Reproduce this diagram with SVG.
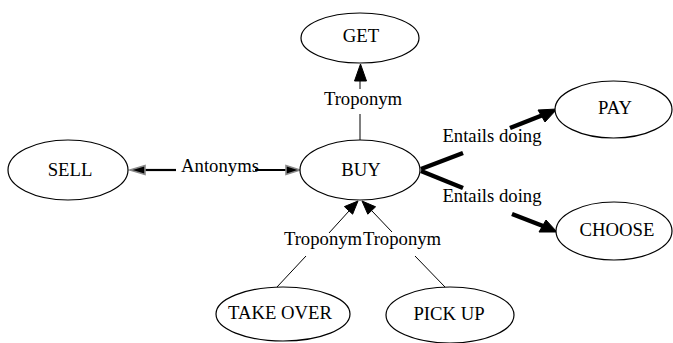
<svg xmlns="http://www.w3.org/2000/svg" width="673" height="343" viewBox="0 0 673 343">
<style>
  .node ellipse { fill: #ffffff; stroke: #000000; stroke-width: 1.2; }
  text { font-family: "Liberation Serif", "Times New Roman", serif; font-size: 18.7px; fill: #000000; text-anchor: middle; }
  .thin { stroke: #000000; stroke-width: 1; fill: none; }
  .thick { stroke: #000000; stroke-width: 4.5; fill: none; }
  .mid { stroke: #000000; stroke-width: 2.2; fill: none; }
  .head { fill: #000000; stroke: #000000; stroke-width: 1; }
  .ghead { fill: #000000; stroke: #8a8a8a; stroke-width: 1.6; stroke-linejoin: miter; }
</style>
<rect width="673" height="343" fill="#ffffff"/>
<g id="connectors">
  <g id="e-sell-buy">
    <line class="mid" x1="145" y1="170" x2="176" y2="170"/>
    <line class="mid" x1="255" y1="170" x2="288" y2="170"/>
    <polygon class="ghead" points="130,170 145,165.5 145,174.5"/>
    <polygon class="ghead" points="300,170 286,165.5 286,174.5"/>
    <text x="220" y="172">Antonyms</text>
  </g>
  <g id="e-buy-get">
    <line class="thin" x1="360" y1="140" x2="360" y2="114"/>
    <line class="thin" x1="360" y1="89" x2="360" y2="80"/>
    <polygon class="head" points="360.5,64 354.5,81 366.5,81"/>
    <text x="363" y="105">Troponym</text>
  </g>
  <g id="e-buy-pay">
    <line class="thick" x1="421" y1="169" x2="463" y2="153"/>
    <line class="thick" x1="510" y1="128" x2="543" y2="115"/>
    <polygon class="head" points="557,109 538,110 545,122"/>
    <text x="492" y="142">Entails doing</text>
  </g>
  <g id="e-buy-choose">
    <line class="thick" x1="421" y1="171" x2="463" y2="188"/>
    <line class="thick" x1="512" y1="214" x2="543" y2="226"/>
    <polygon class="head" points="557,232 546,220 539,232"/>
    <text x="492" y="202">Entails doing</text>
  </g>
  <g id="e-takeover-buy">
    <line class="thin" x1="277" y1="287" x2="306" y2="256"/>
    <line class="thin" x1="329" y1="233" x2="349" y2="211"/>
    <polygon class="head" points="358,201 352.6,214.2 344.4,206.6"/>
    <text x="323" y="245">Troponym</text>
  </g>
  <g id="e-pickup-buy">
    <line class="thin" x1="445" y1="287" x2="415" y2="256"/>
    <line class="thin" x1="392" y1="232" x2="372" y2="211"/>
    <polygon class="head" points="362,201 375.6,206.8 367.8,214.2"/>
    <text x="402" y="245">Troponym</text>
  </g>
</g>
<g id="node-sell" class="node">
  <ellipse cx="68" cy="170" rx="60" ry="30"/>
  <text x="70" y="176">SELL</text>
</g>
<g id="node-buy" class="node">
  <ellipse cx="360" cy="170" rx="60" ry="30"/>
  <text x="361" y="176">BUY</text>
</g>
<g id="node-get" class="node">
  <ellipse cx="360" cy="38" rx="59" ry="25"/>
  <text x="361" y="42">GET</text>
</g>
<g id="node-pay" class="node">
  <ellipse cx="613.5" cy="109.5" rx="58.5" ry="28.5"/>
  <text x="615" y="114">PAY</text>
</g>
<g id="node-choose" class="node">
  <ellipse cx="614" cy="231" rx="58" ry="29"/>
  <text x="617" y="236">CHOOSE</text>
</g>
<g id="node-takeover" class="node">
  <ellipse cx="283" cy="314" rx="67" ry="27"/>
  <text x="280" y="319">TAKE OVER</text>
</g>
<g id="node-pickup" class="node">
  <ellipse cx="450" cy="315" rx="64" ry="28"/>
  <text x="449" y="320">PICK UP</text>
</g>
</svg>
